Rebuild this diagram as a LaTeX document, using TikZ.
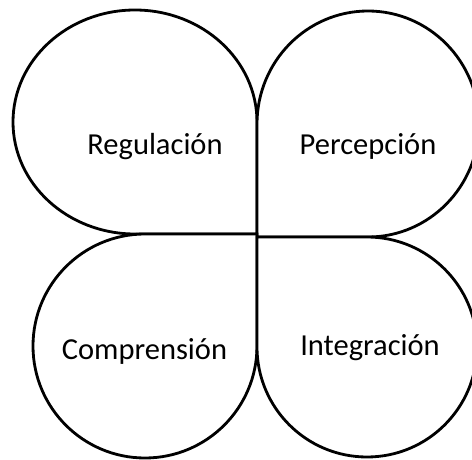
\documentclass[tikz,border=0pt]{standalone}
\usepackage{fontspec}
\setmainfont{Carlito}
\usetikzlibrary{positioning}

\begin{document}
\begin{tikzpicture}[x=1pt, y=1pt, line width=2.8pt,
	petal/.style={draw=black, fill=white},
	txt/.style={anchor=base, inner sep=0pt, font=\fontsize{30.5}{36}\selectfont}]
	\useasboundingbox (0,0) rectangle (472,459);
	\clip (0,0) rectangle (472,459);

	% the four petals, square corner at the middle
	\path[petal] (257,225) -- (257,337) arc[start angle=0, end angle=270, x radius=122, y radius=112] -- cycle;
	\path[petal] (257,222) -- (368,222) arc[start angle=-90, end angle=180, x radius=111, y radius=113] -- cycle;
	\path[petal] (257,225) -- (145,225) arc[start angle=90, end angle=360, x radius=112, y radius=112] -- cycle;
	\path[petal] (257,222) -- (257,112) arc[start angle=180, end angle=450, x radius=110, y radius=110] -- cycle;

	\node[txt] (reg) at (155,305) {Regulación};
	\node[txt] (per) at (368,305) {Percepción};
	\node[txt] (com) at (144.5,100) {Comprensión};
	\node[txt] (int) at (370,104) {Integración};

\end{tikzpicture}
\end{document}
